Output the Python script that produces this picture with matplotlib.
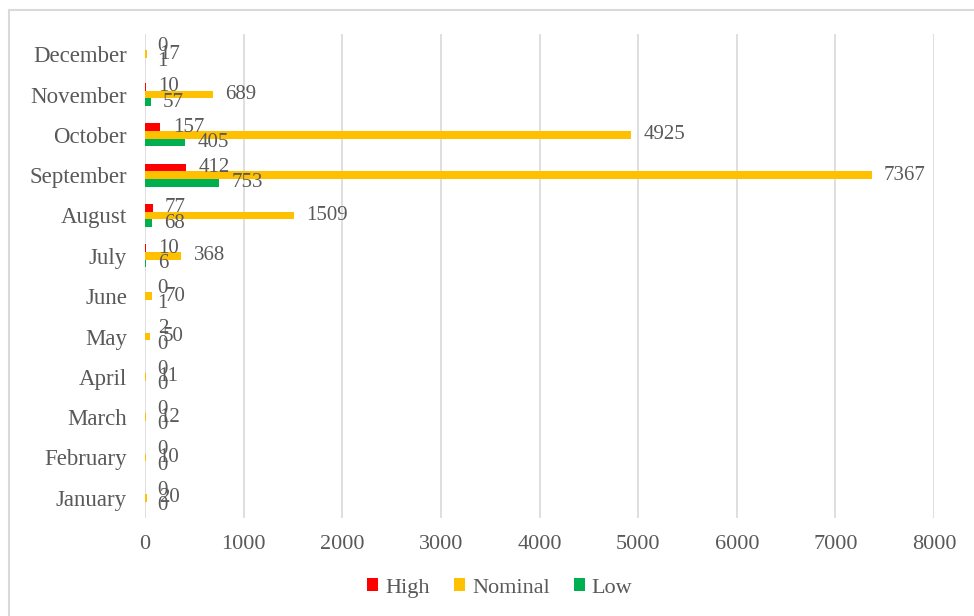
import matplotlib
matplotlib.use("Agg")
import matplotlib.pyplot as plt
import matplotlib.patches as patches
import numpy as np

months = ["January", "February", "March", "April", "May", "June", "July",
          "August", "September", "October", "November", "December"]
high = [0, 0, 0, 0, 2, 0, 10, 77, 412, 157, 10, 0]
nominal = [20, 10, 12, 11, 50, 70, 368, 1509, 7367, 4925, 689, 17]
low = [0, 0, 0, 0, 0, 1, 6, 68, 753, 405, 57, 1]

plt.rcParams["font.family"] = ["Liberation Serif", "DejaVu Serif"]
txt = "#595959"

fig = plt.figure(figsize=(9.74, 6.16), dpi=100)
ax = fig.add_axes([145 / 974, 1 - 518 / 616, (934 - 145) / 974, (518 - 34) / 616])

y = np.arange(len(months))
h = 0.19
series = [("High", high, "#FF0000", h), ("Nominal", nominal, "#FFC000", 0), ("Low", low, "#00B050", -h)]
for name, vals, col, off in series:
    ax.barh(y + off, vals, height=h, color=col, label=name, linewidth=0, zorder=3)
    for yy, v in zip(y, vals):
        ax.annotate(str(v), (v, yy + off), xytext=(9, 0), textcoords="offset points",
                    ha="left", va="center", fontsize=15, color=txt, zorder=4)

ax.set_xlim(0, 8000)
ax.set_ylim(-0.5, len(months) - 0.5)
ax.set_xticks(range(0, 8001, 1000))
ax.set_yticks(y)
ax.set_yticklabels(months)
ax.grid(axis="x", color="#d9d9d9", linewidth=1.2, zorder=0)
for s in ax.spines.values():
    s.set_visible(False)
ax.tick_params(axis="both", length=0, labelsize=16, colors=txt)
ax.tick_params(axis="y", pad=13, labelsize=16.5)
ax.tick_params(axis="x", pad=12)

fig.legend(loc="center", bbox_to_anchor=(500 / 974, 1 - 588 / 616), ncol=3, frameon=False,
           fontsize=16, labelcolor=txt, handlelength=0.5, handleheight=0.5,
           handletextpad=0.3, columnspacing=1.1)

fig.patches.append(patches.Rectangle((9 / 974, -0.1), 1.0, 1 - 10 / 616 + 0.1,
                                     transform=fig.transFigure, fill=False,
                                     edgecolor="#d9d9d9", linewidth=1.5))

fig.savefig("out.png", dpi=100)
